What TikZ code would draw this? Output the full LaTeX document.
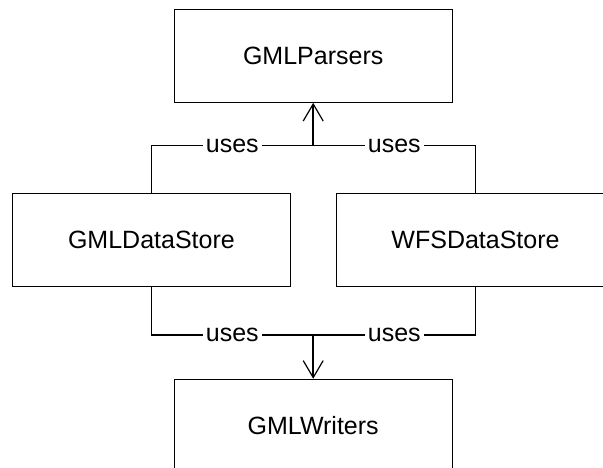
\documentclass[tikz,border=0pt]{standalone}
\usepackage{fontspec}
\setmainfont{Liberation Sans}
\usetikzlibrary{arrows.meta}
\tikzset{
  classbox/.style={draw, line width=1.1pt, minimum width=278pt, minimum height=93pt,
    inner sep=0pt, font=\fontsize{25}{30}\selectfont},
  link/.style={line width=1.1pt},
  usesarrow/.style={line width=2pt,
    -{Straight Barb[length=17pt, width=20pt, line width=1.2pt]}},
  useslabel/.style={fill=white, inner sep=3pt, font=\fontsize{25}{30}\selectfont}
}
\begin{document}
\begin{tikzpicture}[x=1pt, y=-1pt]
  \useasboundingbox (0,0) rectangle (603,468);

  % classes
  \node[classbox] (parsers) at (313.2,55.8) {GMLParsers};
  \node[classbox] (gmlstore) at (151.4,240.3) {GMLDataStore};
  \node[classbox] (wfsstore) at (475.5,240.3) {WFSDataStore};
  \node[classbox] (writers) at (313.2,425.8) {GMLWriters};

  % junction points of the dependency lines
  \coordinate (jtop) at (parsers.south |- 0,145.5);
  \coordinate (jbot) at (writers.north |- 0,335);

  % both data stores use the parsers
  \draw[link] (gmlstore.north) |- node[useslabel, pos=0.75] {uses} (jtop);
  \draw[link] (wfsstore.north) |- node[useslabel, pos=0.75] {uses} (jtop);
  \draw[usesarrow] (jtop) -- (parsers.south);

  % both data stores use the writers
  \draw[link] (gmlstore.south) |- node[useslabel, pos=0.75] {uses} (jbot);
  \draw[link] (wfsstore.south) |- node[useslabel, pos=0.75] {uses} (jbot);
  \draw[usesarrow] (jbot) -- (writers.north);
\end{tikzpicture}
\end{document}
